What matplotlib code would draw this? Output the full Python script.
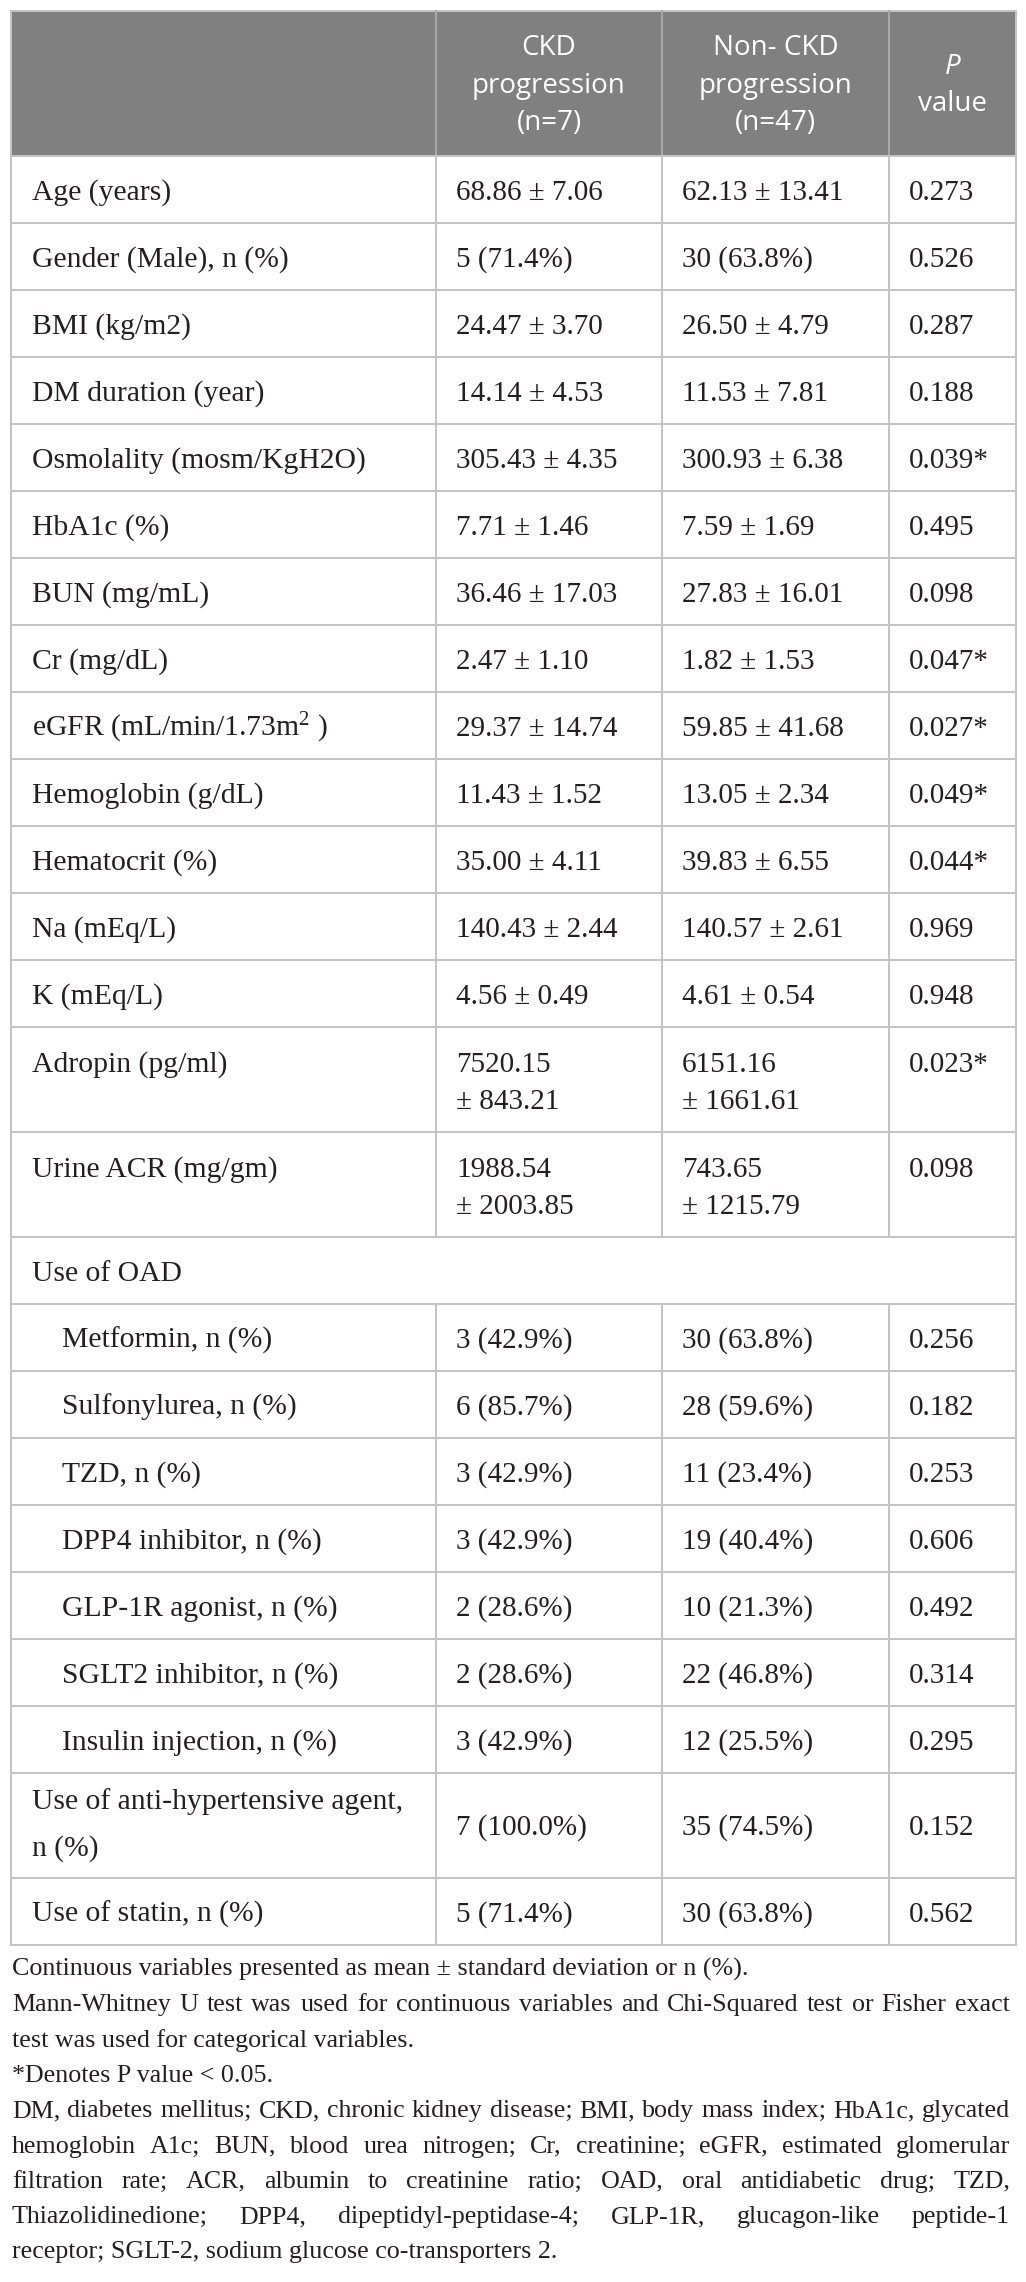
import matplotlib
matplotlib.use("Agg")
import matplotlib.pyplot as plt
from matplotlib.patches import Rectangle

plt.rcParams['mathtext.fontset'] = 'custom'
plt.rcParams['mathtext.rm'] = 'Liberation Serif'
plt.rcParams['mathtext.it'] = 'Liberation Serif:italic'

# ---------------- data ----------------
headers = ["", "CKD\nprogression\n(n=7)", "Non- CKD\nprogression\n(n=47)", "P\nvalue"]

labels = ["Age (years)", "Gender (Male), n (%)", "BMI (kg/m2)", "DM duration (year)",
          "Osmolality (mosm/KgH2O)", "HbA1c (%)", "BUN (mg/mL)", "Cr (mg/dL)",
          "eGFR (mL/min/1.73m$^2$ )", "Hemoglobin (g/dL)", "Hematocrit (%)",
          "Na (mEq/L)", "K (mEq/L)", "Adropin (pg/ml)", "Urine ACR (mg/gm)",
          "Use of OAD", "Metformin, n (%)", "Sulfonylurea, n (%)", "TZD, n (%)",
          "DPP4 inhibitor, n (%)", "GLP-1R agonist, n (%)", "SGLT2 inhibitor, n (%)",
          "Insulin injection, n (%)", "Use of anti-hypertensive agent,\nn (%)",
          "Use of statin, n (%)"]

ckd_progression = ["68.86 ± 7.06", "5 (71.4%)", "24.47 ± 3.70", "14.14 ± 4.53",
                   "305.43 ± 4.35", "7.71 ± 1.46", "36.46 ± 17.03", "2.47 ± 1.10",
                   "29.37 ± 14.74", "11.43 ± 1.52", "35.00 ± 4.11", "140.43 ± 2.44",
                   "4.56 ± 0.49", "7520.15\n± 843.21", "1988.54\n± 2003.85", None,
                   "3 (42.9%)", "6 (85.7%)", "3 (42.9%)", "3 (42.9%)", "2 (28.6%)",
                   "2 (28.6%)", "3 (42.9%)", "7 (100.0%)", "5 (71.4%)"]

non_ckd_progression = ["62.13 ± 13.41", "30 (63.8%)", "26.50 ± 4.79", "11.53 ± 7.81",
                       "300.93 ± 6.38", "7.59 ± 1.69", "27.83 ± 16.01", "1.82 ± 1.53",
                       "59.85 ± 41.68", "13.05 ± 2.34", "39.83 ± 6.55", "140.57 ± 2.61",
                       "4.61 ± 0.54", "6151.16\n± 1661.61", "743.65\n± 1215.79", None,
                       "30 (63.8%)", "28 (59.6%)", "11 (23.4%)", "19 (40.4%)", "10 (21.3%)",
                       "22 (46.8%)", "12 (25.5%)", "35 (74.5%)", "30 (63.8%)"]

p_values = ["0.273", "0.526", "0.287", "0.188", "0.039*", "0.495", "0.098", "0.047*",
            "0.027*", "0.049*", "0.044*", "0.969", "0.948", "0.023*", "0.098", None,
            "0.256", "0.182", "0.253", "0.606", "0.492", "0.314", "0.295", "0.152", "0.562"]

indent_level = [0] * 16 + [1] * 7 + [0, 0]

footnote_lines = [
    "Continuous variables presented as mean ± standard deviation or n (%).",
    "Mann-Whitney U test was used for continuous variables and Chi-Squared test or Fisher exact",
    "test was used for categorical variables.",
    "*Denotes P value < 0.05.",
    "DM, diabetes mellitus; CKD, chronic kidney disease; BMI, body mass index; HbA1c, glycated",
    "hemoglobin A1c; BUN, blood urea nitrogen; Cr, creatinine; eGFR, estimated glomerular",
    "filtration rate; ACR, albumin to creatinine ratio; OAD, oral antidiabetic drug; TZD,",
    "Thiazolidinedione; DPP4, dipeptidyl-peptidase-4; GLP-1R, glucagon-like peptide-1",
    "receptor; SGLT-2, sodium glucose co-transporters 2.",
]
footnote_justified = [False, True, False, False, True, True, True, True, False]

# ---------------- style / layout ----------------
W, H = 1026, 2282
DPI = 100
col_x = [11, 436, 662, 889, 1016]
table_top = 11
header_h = 145
single_h = 67
double_h = 105
pad_x = 21
indent_px = 30
grid_color = "#c4c4c4"
header_bg = "#808080"
text_color = "#231f20"
serif = "Liberation Serif"
sans = "Open Sans"
body_size = 21.3
header_size = 20
foot_line = 35.3
foot_left, foot_right = 12, 1010
foot_first_baseline = 1976
foot_max_size = 20.0

fig = plt.figure(figsize=(W / DPI, H / DPI), dpi=DPI)
ax = fig.add_axes([0, 0, 1, 1])
ax.set_xlim(0, W)
ax.set_ylim(H, 0)
ax.axis("off")

# header
ax.add_patch(Rectangle((col_x[0], table_top), col_x[-1] - col_x[0], header_h,
                       facecolor=header_bg, edgecolor="none", zorder=0))
line_offsets = [37, 75, 112]
for ci, htxt in enumerate(headers):
    if not htxt:
        continue
    cx = (col_x[ci] + col_x[ci + 1]) / 2
    lines = htxt.split("\n")
    if len(lines) == 3:
        ys = [table_top + o for o in line_offsets]
    else:
        ys = [table_top + 56, table_top + 93]
    for ln, yy in zip(lines, ys):
        style = "italic" if (ln == "P") else "normal"
        ax.text(cx, yy, ln, ha="center", va="center", color="white",
                fontsize=header_size, family=sans, style=style)

# rows
y = table_top + header_h
row_bounds = []
for i, lab in enumerate(labels):
    vals = [ckd_progression[i], non_ckd_progression[i], p_values[i]]
    nlines_lab = lab.count("\n") + 1
    nlines_val = max((v.count("\n") + 1) if v else 1 for v in vals)
    h = double_h if max(nlines_lab, nlines_val) > 1 else single_h
    row_bounds.append((y, y + h, vals[0] is None))
    lx = col_x[0] + pad_x + indent_px * indent_level[i]
    if nlines_lab == 2:
        lab_ys = [y + 36, y + 83]
    else:
        lab_ys = [y + 44] if h == single_h else [y + 45]
    for ln, yy in zip(lab.split("\n"), lab_ys):
        ax.text(lx, yy, ln, ha="left", va="baseline", color=text_color,
                fontsize=body_size, family=serif)
    for ci, v in enumerate(vals):
        if v is None:
            continue
        vx = col_x[ci + 1] + pad_x - 1
        vl = v.split("\n")
        if len(vl) == 2:
            vys = [y + 45, y + 82]
        elif h == single_h:
            vys = [y + 44]
        elif nlines_lab == 2:
            vys = [y + 62]
        else:
            vys = [y + 45]
        for ln, yy in zip(vl, vys):
            ax.text(vx, yy, ln, ha="left", va="baseline", color=text_color,
                    fontsize=body_size - 0.3, family=serif)
    y += h
table_bottom = y

# grid lines
lw = 1.45
ax.plot([col_x[0], col_x[-1]], [table_top, table_top], color=grid_color, lw=lw, zorder=3)
ax.plot([col_x[0], col_x[-1]], [table_top + header_h] * 2, color=grid_color, lw=lw, zorder=3)
for (y0, y1, merged) in row_bounds:
    ax.plot([col_x[0], col_x[-1]], [y1, y1], color=grid_color, lw=lw, zorder=3)
for xx in (col_x[0], col_x[-1]):
    ax.plot([xx, xx], [table_top, table_bottom], color=grid_color, lw=lw, zorder=3)
for xx in col_x[1:-1]:
    ax.plot([xx, xx], [table_top, table_top + header_h], color="#a8a8a8", lw=lw, zorder=3)
    for (y0, y1, merged) in row_bounds:
        if not merged:
            ax.plot([xx, xx], [y0, y1], color=grid_color, lw=lw, zorder=3)

# footnotes (justified where the original is)
fig.canvas.draw()
renderer = fig.canvas.get_renderer()
avail = foot_right - foot_left

def width_of(s, size):
    t = ax.text(0, 0, s, fontsize=size, family=serif)
    bb = t.get_window_extent(renderer)
    t.remove()
    return bb.width

# largest size at which every justified line fits with normal word spacing
foot_size = foot_max_size
while foot_size > 15:
    if all(width_of(l, foot_size) <= avail - 6 for l, j in
           zip(footnote_lines, footnote_justified) if j):
        break
    foot_size -= 0.1

yb = foot_first_baseline
for line, just in zip(footnote_lines, footnote_justified):
    if not just:
        ax.text(foot_left, yb, line, ha="left", va="baseline",
                color=text_color, fontsize=foot_size, family=serif)
    else:
        words = line.split(" ")
        ws = [width_of(w, foot_size) for w in words]
        gap = (avail - sum(ws)) / (len(words) - 1)
        xx = foot_left
        for w, ww in zip(words, ws):
            ax.text(xx, yb, w, ha="left", va="baseline", color=text_color,
                    fontsize=foot_size, family=serif)
            xx += ww + gap
    yb += foot_line

fig.savefig("out.png", dpi=DPI, facecolor="white")
